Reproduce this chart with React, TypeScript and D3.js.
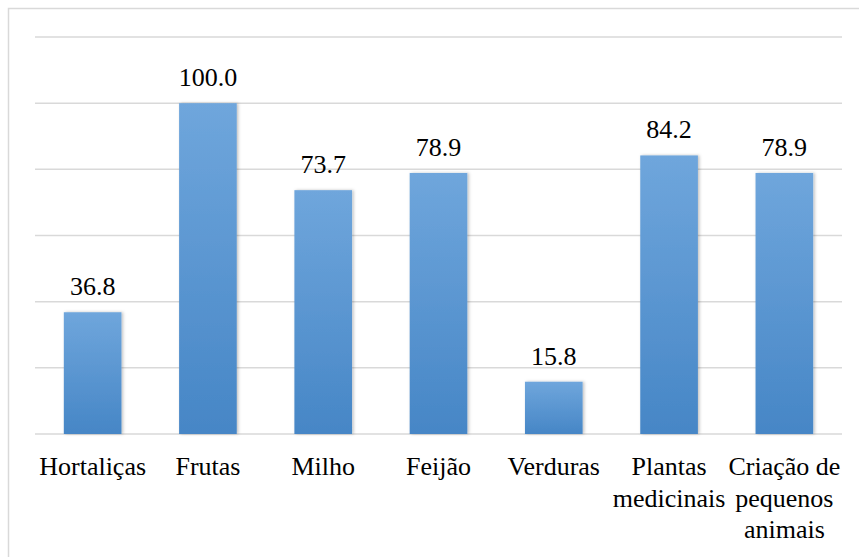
import React from "react";
import * as d3 from "d3";

const categories = ["Hortaliças", "Frutas", "Milho", "Feijão", "Verduras", "Plantas medicinais", "Criação de pequenos animais"];
const categoryLines = [["Hortaliças"], ["Frutas"], ["Milho"], ["Feijão"], ["Verduras"], ["Plantas", "medicinais"], ["Criação de", "pequenos", "animais"]];
const values = [36.8, 100.0, 73.7, 78.9, 15.8, 84.2, 78.9];
const yTicks = [0, 20, 40, 60, 80, 100, 120];

const W = 859;
const H = 557;
const M = { left: 35, right: 17, top: 37, bottom: 123 };

export default function App() {
  const x = d3.scaleBand<string>().domain(categories).range([M.left, W - M.right]).paddingInner(0.5).paddingOuter(0.25);
  const y = d3.scaleLinear().domain([0, 120]).range([H - M.bottom, M.top]);
  const textStyle = { fontFamily: '"Liberation Serif", "Times New Roman", serif', fontSize: "26px" };
  return (
    <svg width={W} height={H} style={{ position: "absolute", left: 0, top: 0, background: "#fff" }}>
      <defs>
        <linearGradient id="barGrad" x1="0" y1="0" x2="0" y2="1">
          <stop offset="0%" stopColor="#6fa6dc" />
          <stop offset="100%" stopColor="#4686c6" />
        </linearGradient>
        <filter id="shadow" x="-20%" y="-10%" width="140%" height="120%">
          <feDropShadow dx="1.5" dy="0" stdDeviation="1.5" floodColor="#000" floodOpacity="0.25" />
        </filter>
      </defs>
      <rect x={8.5} y={8.5} width={W + 10} height={H + 10} fill="#fff" stroke="#d9d9d9" strokeWidth={1.5} />
      {yTicks.map((t) => (
        <line key={t} x1={M.left} x2={W - M.right} y1={y(t)} y2={y(t)} stroke="#d9d9d9" strokeWidth={1.5} />
      ))}
      {categories.map((c, i) => (
        <rect key={c} x={x(c)} y={y(values[i])} width={x.bandwidth()} height={y(0) - y(values[i])} fill="url(#barGrad)" filter="url(#shadow)" />
      ))}
      <g style={textStyle}>
        {categories.map((c, i) => (
          <text key={"v" + c} x={(x(c) as number) + x.bandwidth() / 2} y={y(values[i]) - 17} textAnchor="middle" fill="#000">
            {values[i].toFixed(1)}
          </text>
        ))}
        {categories.map((c, i) => (
          <text key={"c" + c} x={(x(c) as number) + x.bandwidth() / 2} y={475} textAnchor="middle" fill="#000">
            {categoryLines[i].map((l, j) => (
              <tspan key={j} x={(x(c) as number) + x.bandwidth() / 2} dy={j === 0 ? 0 : 31.5}>
                {l}
              </tspan>
            ))}
          </text>
        ))}
      </g>
    </svg>
  );
}
